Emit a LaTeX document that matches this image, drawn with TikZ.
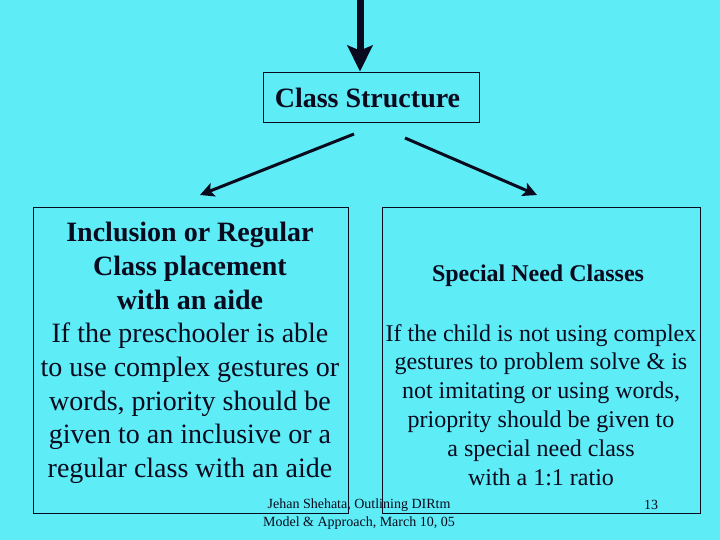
\documentclass[tikz,border=0pt]{standalone}
\usepackage{fontspec}
\setmainfont{Liberation Serif}
\usetikzlibrary{arrows.meta}
\definecolor{bg}{RGB}{94,236,246}
\definecolor{ink}{RGB}{10,10,30}
\begin{document}
\begin{tikzpicture}[x=1pt,y=-1pt,
  box/.style={draw=ink,line width=0.9pt,inner sep=0pt},
  txt/.style={text=ink,align=center,inner sep=0pt},
  arr/.style={draw=ink,line width=3pt,-{Stealth[length=14pt,width=14pt,inset=3pt]}}]
\fill[bg] (0,0) rectangle (720,540);
\useasboundingbox (0,0) rectangle (720,540);
\node[box,minimum width=216pt,minimum height=50pt] (cs) at (371,97) {};
\node[txt,font=\bfseries\fontsize{28}{32}\selectfont] (cst) at (367.5,98) {Class Structure};
\coordinate (top) at (360,0);
\draw[ink,line width=7pt,-{Stealth[length=26pt,width=25pt,inset=5pt]}] (top) -- (cs.north -| top);
\node[box,minimum width=315pt,minimum height=306pt] (lb) at (190.5,360) {};
\node[box,minimum width=318pt,minimum height=306pt] (rb) at (541.5,360) {};
\coordinate (l1) at (354,134); \coordinate (l2) at (200,195);
\coordinate (r1) at (405,138); \coordinate (r2) at (537,195);
\draw[arr] (l1) -- (l2);
\draw[arr] (r1) -- (r2);
\node[txt,font=\fontsize{28}{33.7}\selectfont,anchor=north] (lt) at (190,222) {\textbf{Inclusion or Regular}\\ \textbf{Class placement}\\ \textbf{with an aide}\\ If the preschooler is able\\ to use complex gestures or\\ words, priority should be\\ given to an inclusive or a\\ regular class with an aide};
\node[txt,font=\bfseries\fontsize{24}{28}\selectfont] (rh) at (538,276) {Special Need Classes};
\node[txt,font=\fontsize{24}{28.8}\selectfont,anchor=north] (rt) at (541,324) {If the child is not using complex\\ gestures to problem solve \& is\\ not imitating or using words,\\ prioprity should be given to\\ a special need class\\ with a 1:1 ratio};
\node[txt,font=\fontsize{14}{18}\selectfont] (ft) at (359,514) {Jehan Shehata, Outlining DIRtm\\ Model \& Approach, March 10, 05};
\node[txt,font=\fontsize{14}{18}\selectfont] (pg) at (651,505) {13};
\end{tikzpicture}
\end{document}
